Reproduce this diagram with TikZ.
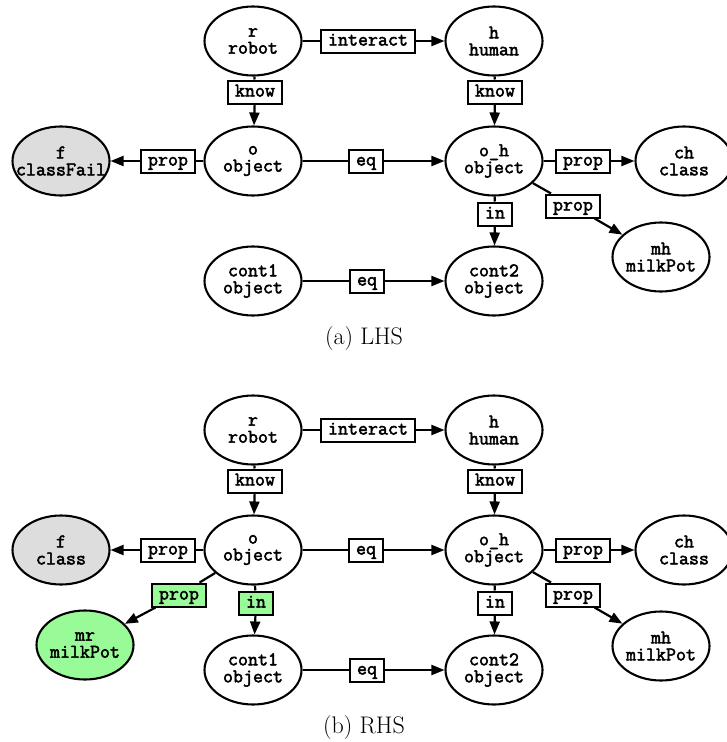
\documentclass[tikz,border=0pt]{standalone}
\usepackage{fontspec}
% heavy typewriter face for node and edge labels
\newfontfamily\gvfont{Latin Modern Mono}[FakeBold=2.5]
\usetikzlibrary{shapes.geometric,arrows.meta}

\definecolor{nodegray}{RGB}{221,221,221}
\definecolor{newgreen}{RGB}{152,251,152}

\tikzset{
  gvtext/.style={font=\gvfont\fontsize{19.4}{17}\selectfont},
  ent/.style={gvtext, ellipse, draw, line width=2.1pt, fill=white,
    minimum width=97pt, minimum height=69pt, inner xsep=-12pt, inner ysep=0pt,
    align=center},
  rel/.style={gvtext, rectangle, draw, line width=2pt, fill=white,
    inner xsep=7pt, inner ysep=4pt, text height=12pt, text depth=3pt},
  link/.style={line width=2.2pt},
  arr/.style={line width=2.2pt, -{Triangle[length=13pt,width=10pt]}},
  added/.style={fill=newgreen},
  caption/.style={font=\fontsize{24}{28}\selectfont}
}

\begin{document}
\begin{tikzpicture}[x=1pt,y=-1pt]
\useasboundingbox (0,0) rectangle (727,742);

% ---------- (a) left-hand side ----------
\node[ent] (rA)  at (253,41)  {r\\robot};
\node[ent] (hA)  at (494,41)  {h\\human};
\node[ent] (oA)  at (253,161) {o\\object};
\node[ent] (ohA) at (494,161) {o\_h\\object};
\node[ent, fill=nodegray] (fA) at (61,161) {f\\classFail};
\node[ent] (chA) at (684,161) {ch\\class};
\node[ent] (mhA) at (661,257) {mh\\milkPot};
\node[ent] (c1A) at (253,281) {cont1\\object};
\node[ent] (c2A) at (494,281) {cont2\\object};

\node[rel] (iaA)  at (368,41)  {interact};
\node[rel] (k1A)  at (255,92)  {know};
\node[rel] (k2A)  at (495,92)  {know};
\node[rel] (pfA)  at (168,161) {prop};
\node[rel] (eq1A) at (366,161) {eq};
\node[rel] (pcA)  at (583,161) {prop};
\node[rel] (pmA)  at (573,206) {prop};
\node[rel] (inA)  at (495,214) {in};
\node[rel] (eq2A) at (367,281) {eq};

\draw[link] (rA) -- (iaA);  \draw[arr] (iaA) -- (hA);
\draw[link] (rA) -- (k1A);  \draw[arr] (k1A) -- (oA);
\draw[link] (hA) -- (k2A);  \draw[arr] (k2A) -- (ohA);
\draw[link] (oA) -- (pfA);  \draw[arr] (pfA) -- (fA);
\draw[link] (oA) -- (eq1A); \draw[arr] (eq1A) -- (ohA);
\draw[link] (ohA) -- (pcA); \draw[arr] (pcA) -- (chA);
\draw[link] (ohA) -- (pmA); \draw[arr] (pmA) -- (mhA);
\draw[link] (ohA) -- (inA); \draw[arr] (inA) -- (c2A);
\draw[link] (c1A) -- (eq2A); \draw[arr] (eq2A) -- (c2A);

\node[caption] (capA) at (364,339) {(a) LHS};

% ---------- (b) right-hand side ----------
\begin{scope}[yshift=-389pt]
\node[ent] (rB)  at (253,41)  {r\\robot};
\node[ent] (hB)  at (494,41)  {h\\human};
\node[ent] (oB)  at (253,161) {o\\object};
\node[ent] (ohB) at (494,161) {o\_h\\object};
\node[ent, fill=nodegray] (fB) at (61,161) {f\\class};
\node[ent] (chB) at (684,161) {ch\\class};
\node[ent] (mhB) at (661,257) {mh\\milkPot};
\node[ent] (c1B) at (253,281) {cont1\\object};
\node[ent] (c2B) at (494,281) {cont2\\object};
\node[ent, added] (mrB) at (85,256) {mr\\milkPot};

\node[rel] (iaB)  at (368,41)  {interact};
\node[rel] (k1B)  at (255,92)  {know};
\node[rel] (k2B)  at (495,92)  {know};
\node[rel] (pfB)  at (168,161) {prop};
\node[rel] (eq1B) at (366,161) {eq};
\node[rel] (pcB)  at (583,161) {prop};
\node[rel] (pmB)  at (573,206) {prop};
\node[rel] (inB)  at (495,214) {in};
\node[rel] (eq2B) at (367,281) {eq};
\node[rel, added] (prB) at (179,206) {prop};
\node[rel, added] (icB) at (256,214) {in};

\draw[link] (rB) -- (iaB);  \draw[arr] (iaB) -- (hB);
\draw[link] (rB) -- (k1B);  \draw[arr] (k1B) -- (oB);
\draw[link] (hB) -- (k2B);  \draw[arr] (k2B) -- (ohB);
\draw[link] (oB) -- (pfB);  \draw[arr] (pfB) -- (fB);
\draw[link] (oB) -- (eq1B); \draw[arr] (eq1B) -- (ohB);
\draw[link] (ohB) -- (pcB); \draw[arr] (pcB) -- (chB);
\draw[link] (ohB) -- (pmB); \draw[arr] (pmB) -- (mhB);
\draw[link] (ohB) -- (inB); \draw[arr] (inB) -- (c2B);
\draw[link] (c1B) -- (eq2B); \draw[arr] (eq2B) -- (c2B);
\draw[link] (oB) -- (prB);  \draw[arr] (prB) -- (mrB);
\draw[link] (oB) -- (icB);  \draw[arr] (icB) -- (c1B);

\node[caption] (capB) at (364,339) {(b) RHS};
\end{scope}
\end{tikzpicture}
\end{document}
